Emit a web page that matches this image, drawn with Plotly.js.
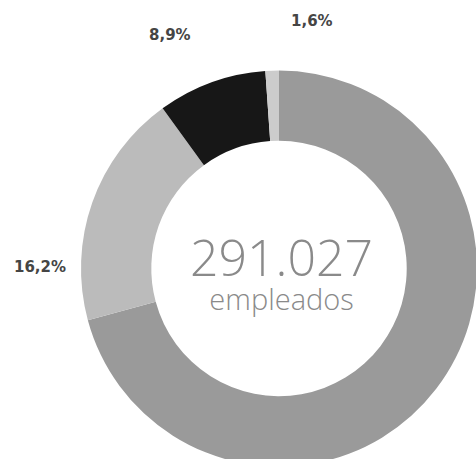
<!DOCTYPE html>
<html>
<head>
<meta charset="utf-8">
<script src="https://cdn.plot.ly/plotly-3.0.1.min.js"></script>
<style>
html,body{margin:0;padding:0;background:#fff;overflow:hidden;width:476px;height:459px;}
#chart{width:480px;height:470px;}
</style>
</head>
<body>
<div id="chart"></div>
<script>
// Slice values as drawn (clockwise from 12 o'clock)
const categories = ["A", "B", "C", "D"];
const values = [70.8, 19.2, 8.9, 1.1];
const colors = ["#9a9a9a", "#bbbbbb", "#171717", "#cccccc"];
// Printed labels
const labelTexts = ["16,2%", "8,9%", "1,6%"];
const centerValue = "291.027";
const centerLabel = "empleados";

const W = 480, H = 470;
const cx = 279, cy = 268.5, R = 198;

const trace = {
  type: "pie",
  labels: categories,
  values: values,
  marker: {colors: colors, line: {width: 0}},
  hole: 0.645,
  sort: false,
  direction: "clockwise",
  rotation: 0,
  textinfo: "none",
  hoverinfo: "none",
  showlegend: false,
  automargin: false,
  domain: {x: [(cx - R) / W, (cx + R) / W], y: [(H - cy - R) / H, (H - cy + R) / H]}
};

const px = (x) => x / W;
const py = (y) => 1 - y / H;
const labelFont = {family: "DejaVu Sans, sans-serif", size: 15, color: "#454545", weight: 700};
const labelPos = [[40, 267], [170, 35], [312, 21]];

const annotations = labelTexts.map((t, i) => ({
  text: "<b>" + t + "</b>", x: px(labelPos[i][0]), y: py(labelPos[i][1]),
  xref: "paper", yref: "paper", showarrow: false, xanchor: "center", yanchor: "middle",
  font: labelFont
}));
annotations.push({
  text: '<span style="font-size:50px">' + centerValue + '</span><br><span style="font-size:29px">' + centerLabel + '</span>',
  x: px(281), y: py(270), xref: "paper", yref: "paper", showarrow: false,
  xanchor: "center", yanchor: "middle", align: "center",
  font: {family: "Open Sans, sans-serif", size: 26, color: "#8a8a8a", weight: 300}
});

Plotly.newPlot("chart", [trace], {
  width: W, height: H,
  margin: {l: 0, r: 0, t: 0, b: 0, pad: 0},
  paper_bgcolor: "#ffffff",
  plot_bgcolor: "#ffffff",
  showlegend: false,
  annotations: annotations
}, {displayModeBar: false, staticPlot: true});
</script>
</body>
</html>
